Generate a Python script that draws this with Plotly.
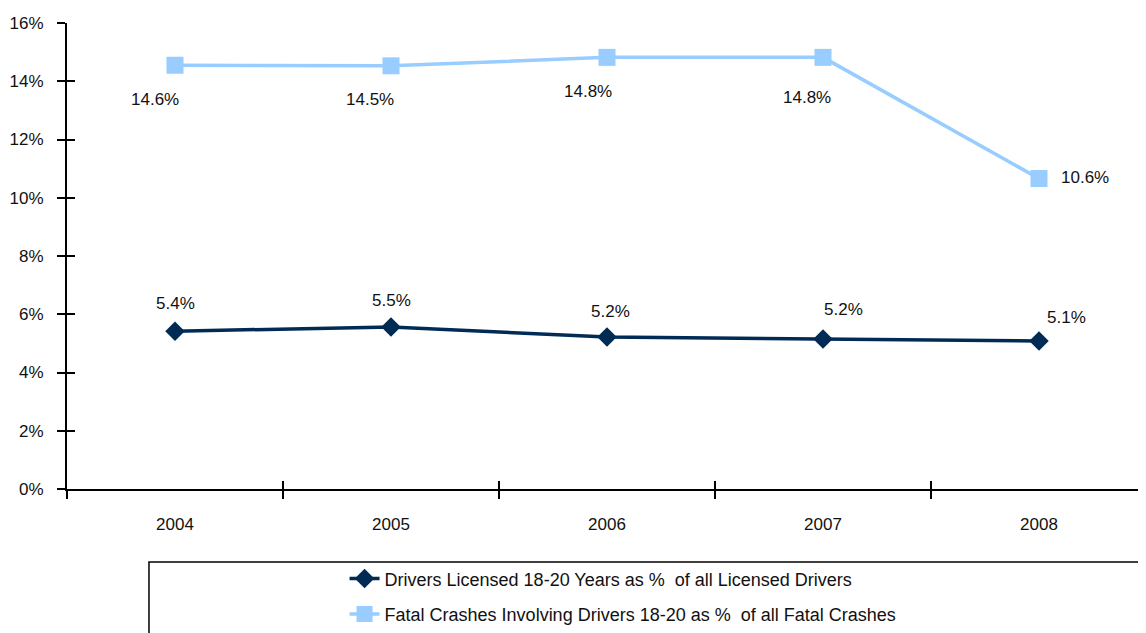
import plotly.graph_objects as go

# datos
anios = ["2004", "2005", "2006", "2007", "2008"]
licenciados = [5.42, 5.56, 5.22, 5.15, 5.08]
licenciados_txt = ["5.4%", "5.5%", "5.2%", "5.2%", "5.1%"]
fatales = [14.55, 14.53, 14.82, 14.82, 10.66]
fatales_txt = ["14.6%", "14.5%", "14.8%", "14.8%", "10.6%"]
y_ticks = [0, 2, 4, 6, 8, 10, 12, 14, 16]

FUENTE = "Liberation Sans, Arial, sans-serif"
OSCURO = "#002b55"
CLARO = "#99ccff"
TXT = "#111111"

fig = go.Figure()
fig.add_trace(go.Scatter(
    x=anios, y=licenciados, mode="lines+markers", legendgroup="a",
    name="Drivers Licensed 18-20 Years as %  of all Licensed Drivers",
    line=dict(color=OSCURO, width=3.5),
    marker=dict(symbol="diamond", size=15, color=OSCURO),
))
fig.add_trace(go.Scatter(
    x=anios, y=fatales, mode="lines+markers", legendgroup="b",
    name="Fatal Crashes Involving Drivers 18-20 as %  of all Fatal Crashes",
    line=dict(color=CLARO, width=3.5),
    marker=dict(symbol="square", size=17, color=CLARO),
))
# traza invisible para que se dibujen los ejes superpuestos (marcas hacia dentro)
fig.add_trace(go.Scatter(
    x=list(range(len(anios))), y=licenciados, xaxis="x2", yaxis="y2",
    mode="markers", marker=dict(opacity=0), showlegend=False, hoverinfo="skip",
))

# etiquetas de datos (desplazamientos en px)
desp_osc = [(0, 28), (0, 27), (3, 25), (20, 30), (27, 24)]
desp_cla = [(-20, -34), (-21, -34), (-19, -34), (-16, -40), (46, 1)]
for i in range(len(anios)):
    fig.add_annotation(x=i, y=licenciados[i], text=licenciados_txt[i], showarrow=False,
                       xshift=desp_osc[i][0], yshift=desp_osc[i][1],
                       font=dict(family=FUENTE, size=17, color=TXT))
    fig.add_annotation(x=i, y=fatales[i], text=fatales_txt[i], showarrow=False,
                       xshift=desp_cla[i][0], yshift=desp_cla[i][1],
                       font=dict(family=FUENTE, size=17, color=TXT))

# recuadro de la leyenda
fig.add_shape(type="rect", xref="paper", yref="paper",
              x0=0.0759, x1=0.997, y0=-0.1567, y1=-0.40,
              line=dict(color="black", width=1.5), fillcolor="white", layer="below")

ejes_extra = dict(showgrid=False, zeroline=False, showline=False, showticklabels=False,
                  ticks="inside", ticklen=8, tickwidth=1.5, tickcolor="black",
                  fixedrange=True, automargin=False)

fig.update_layout(
    width=1146, height=633,
    margin=dict(l=59, r=7, t=15, b=152, autoexpand=False),
    paper_bgcolor="white", plot_bgcolor="white",
    font=dict(family=FUENTE, size=17, color=TXT),
    showlegend=True,
    legend=dict(x=0.257, xanchor="left", y=-0.153, yanchor="top",
                bgcolor="rgba(0,0,0,0)", borderwidth=0,
                font=dict(family=FUENTE, size=18, color=TXT),
                tracegroupgap=9),
    xaxis=dict(type="category", range=[-0.5, 4.5], showgrid=False, automargin=False,
               showline=True, linecolor="black", linewidth=2,
               ticks="outside", tickson="boundaries", ticklen=8, tickwidth=1.5, tickcolor="black",
               ticklabelstandoff=19,
               tickfont=dict(family=FUENTE, size=17, color=TXT)),
    yaxis=dict(range=[0, 16], tickvals=y_ticks, ticktext=[f"{v}%" for v in y_ticks],
               showgrid=False, zeroline=False, showline=True, linecolor="black", linewidth=2,
               automargin=False,
               ticks="outside", ticklen=8, tickwidth=1.5, tickcolor="black",
               ticklabelstandoff=10,
               tickfont=dict(family=FUENTE, size=17, color=TXT)),
    xaxis2=dict(overlaying="x", anchor="y", range=[-0.5, 4.5],
                tickvals=[-0.5, 0.5, 1.5, 2.5, 3.5, 4.5], **ejes_extra),
    yaxis2=dict(overlaying="y", anchor="x", side="left", range=[0, 16], tickvals=y_ticks,
                **ejes_extra),
)

fig.write_html("out.html")
